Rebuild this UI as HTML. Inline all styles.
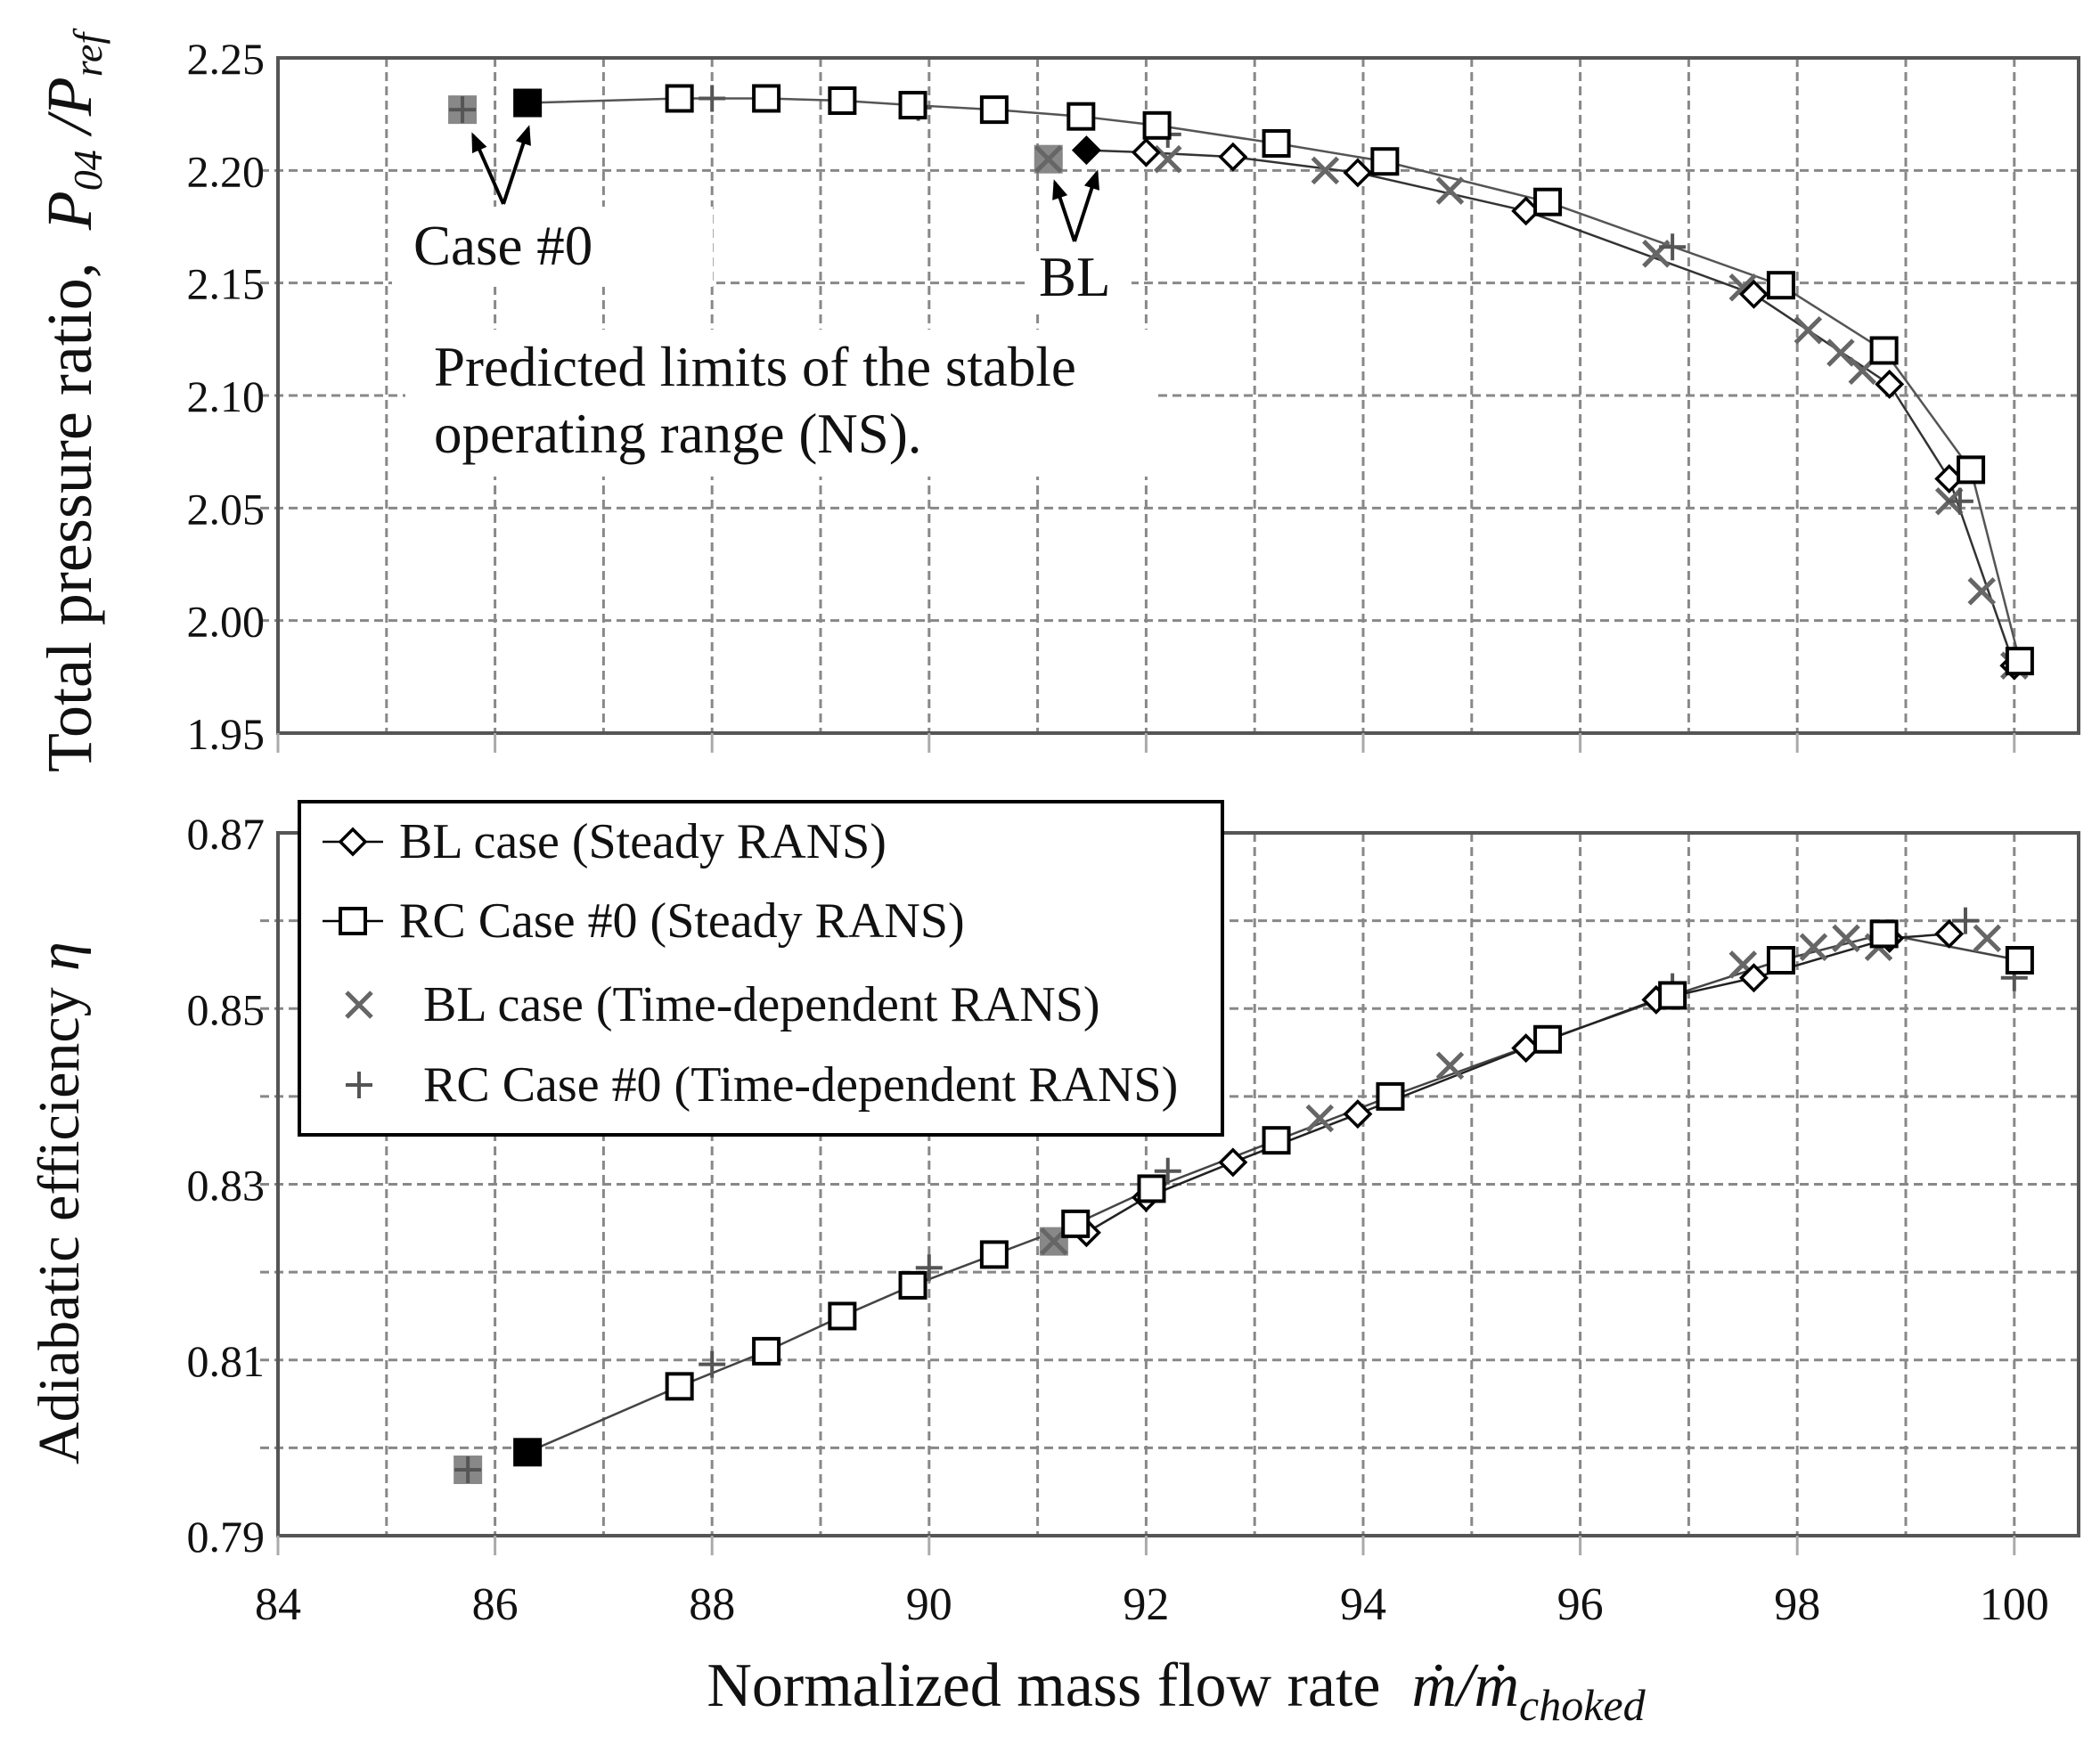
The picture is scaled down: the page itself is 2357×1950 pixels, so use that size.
<!DOCTYPE html>
<html><head><meta charset="utf-8">
<style>
html,body{margin:0;padding:0;background:#fff;}
svg{display:block;font-family:"Liberation Serif",serif;}
</style></head>
<body>
<svg id="s" width="2357" height="1950" viewBox="0 0 2357 1950" xmlns="http://www.w3.org/2000/svg">
<defs>
<marker id="ah" markerWidth="22" markerHeight="18" refX="18" refY="9" orient="auto" markerUnits="userSpaceOnUse">
<path d="M0,0 L22,9 L0,18 z" fill="#000"/>
</marker>
</defs>
</svg>
<script>
var s=document.getElementById('s'),NS='http://www.w3.org/2000/svg';
function el(t,a,txt){var e=document.createElementNS(NS,t);for(var k in a)e.setAttribute(k,a[k]);if(txt!==undefined)e.textContent=txt;s.appendChild(e);return e;}
var L=312,R=2333,T1=65,B1=823,T2=935,B2=1724;
function X(v){return 312+(v-84)*121.8;}
function YT(v){return T1+(2.25-v)/0.05*(B1-T1)/6;}
function YB(v){return T2+(0.87-v)/0.01*(B2-T2)/8;}
function grid(top,bot,ys){
  for(var i=85;i<=100;i++){var x=X(i);el('line',{x1:x,y1:top,x2:x,y2:bot,stroke:'#888','stroke-width':3,'stroke-dasharray':'10,6'});}
  ys.forEach(function(y){el('line',{x1:L-20,y1:y,x2:R,y2:y,stroke:'#888','stroke-width':3,'stroke-dasharray':'10,6'});});
  el('rect',{x:L,y:top,width:R-L,height:bot-top,fill:'none',stroke:'#555','stroke-width':4});
}
var yt=[];for(var i=1;i<6;i++)yt.push(T1+i*(B1-T1)/6);
grid(T1,B1,yt);
var yb=[];for(var i=1;i<8;i++)yb.push(T2+i*(B2-T2)/8);
grid(T2,B2,yb);
for(var i=84;i<=100;i+=2){el('line',{x1:X(i),y1:B2,x2:X(i),y2:B2+22,stroke:'#aaa','stroke-width':3});
 el('text',{x:X(i),y:1818,'font-size':52,'text-anchor':'middle',fill:'#111'},String(i));}
for(var i=84;i<=100;i+=2){el('line',{x1:X(i),y1:B1,x2:X(i),y2:B1+22,stroke:'#aaa','stroke-width':3});}
['2.25','2.20','2.15','2.10','2.05','2.00','1.95'].forEach(function(t,i){el('text',{x:297,y:T1+i*(B1-T1)/6+18,'font-size':50,'text-anchor':'end',fill:'#111'},t);});
['0.87','0.85','0.83','0.81','0.79'].forEach(function(t,i){el('text',{x:297,y:T2+i*(B2-T2)/4+18,'font-size':50,'text-anchor':'end',fill:'#111'},t);});
el('rect',{x:440,y:232,width:360,height:90,fill:'#fff'});
el('rect',{x:1150,y:282,width:120,height:70,fill:'#fff'});
el('rect',{x:455,y:370,width:840,height:165,fill:'#fff'});
el('text',{x:464,y:297,'font-size':63,fill:'#111'},'Case #0');
el('text',{x:1166,y:332,'font-size':63,fill:'#111'},'BL');
el('text',{x:487,y:433,'font-size':63,fill:'#111'},'Predicted limits of the stable');
el('text',{x:487,y:508,'font-size':63,fill:'#111'},'operating range (NS).');
[[565,229,531,152],[565,229,593,144],[1206,271,1184,205],[1206,271,1231,194]].forEach(function(a){
 el('line',{x1:a[0],y1:a[1],x2:a[2],y2:a[3],stroke:'#000','stroke-width':4,'marker-end':'url(#ah)'});});
var g=el('text',{transform:'translate(102,867) rotate(-90)','font-size':72,'text-anchor':'start',fill:'#111'});
g.innerHTML='Total pressure ratio,&#160;&#160;<tspan font-style="italic">P</tspan><tspan font-style="italic" font-size="46" dy="12">04</tspan><tspan dy="-12" font-style="italic"> /P</tspan><tspan font-style="italic" font-size="46" dy="12">ref</tspan>';
el('text',{transform:'translate(88,1644) rotate(-90)','font-size':66,'text-anchor':'start',fill:'#111'},'Adiabatic efficiency');
el('text',{transform:'translate(88,1090) rotate(-90)','font-size':66,'text-anchor':'start','font-style':'italic',fill:'#111'},'η');
var g3=el('text',{x:1320,y:1915,'font-size':70,'text-anchor':'middle',fill:'#111'});
g3.innerHTML='Normalized mass flow rate&#160;&#160;<tspan font-style="italic">ṁ/ṁ</tspan><tspan font-style="italic" font-size="50" dy="16">choked</tspan>';
function sq(x,y,fill){el('rect',{x:x-14,y:y-14,width:28,height:28,fill:fill||'#fff',stroke:'#000','stroke-width':4});}
function di(x,y,fill){el('path',{d:'M'+x+','+(y-14)+' L'+(x+14)+','+y+' L'+x+','+(y+14)+' L'+(x-14)+','+y+' z',fill:fill||'#fff',stroke:'#000','stroke-width':3.5});}
function cr(x,y){el('path',{d:'M'+(x-14)+','+(y-14)+' L'+(x+14)+','+(y+14)+' M'+(x+14)+','+(y-14)+' L'+(x-14)+','+(y+14),stroke:'#666','stroke-width':5});}
function pl(x,y){el('path',{d:'M'+(x-15)+','+y+' L'+(x+15)+','+y+' M'+x+','+(y-15)+' L'+x+','+(y+15),stroke:'#555','stroke-width':4});}
function line(pts,fx,fy,col,w){el('polyline',{points:pts.map(function(p){return fx(p[0])+','+fy(p[1]);}).join(' '),fill:'none',stroke:col,'stroke-width':w});}
var tS=[[86.3,2.230],[87.7,2.232],[88.5,2.232],[89.2,2.231],[89.85,2.229],[90.6,2.227],[91.4,2.224],[92.1,2.220],[93.2,2.212],[94.2,2.204],[95.7,2.186],[97.85,2.149],[98.8,2.120],[99.6,2.067],[100.05,1.982]];
var tD=[[91.45,2.209],[92.0,2.208],[92.8,2.206],[93.95,2.199],[95.5,2.182],[97.6,2.145],[98.85,2.105],[99.4,2.063],[100.0,1.980]];
var tX=[[91.1,2.205],[92.2,2.205],[93.65,2.200],[94.8,2.191],[96.7,2.163],[97.5,2.148],[98.1,2.129],[98.4,2.119],[98.6,2.111],[99.4,2.053],[99.7,2.013],[100.0,1.980]];
var tP=[[85.7,2.227],[88.0,2.232],[89.9,2.228],[92.2,2.216],[96.85,2.166],[99.5,2.053]];
line(tS,X,YT,'#555',2.5);line(tD,X,YT,'#333',2.5);
el('rect',{x:X(85.7)-16,y:YT(2.227)-16,width:32,height:32,fill:'#888'});
el('rect',{x:X(91.1)-16,y:YT(2.205)-16,width:32,height:32,fill:'#888'});
tX.forEach(function(p){cr(X(p[0]),YT(p[1]));});
tP.forEach(function(p){pl(X(p[0]),YT(p[1]));});
tD.forEach(function(p,i){di(X(p[0]),YT(p[1]),i==0?'#000':'#fff');});
tS.forEach(function(p,i){sq(X(p[0]),YT(p[1]),i==0?'#000':'#fff');});
var bS=[[86.3,0.7995],[87.7,0.807],[88.5,0.811],[89.2,0.815],[89.85,0.8185],[90.6,0.822],[91.35,0.8255],[92.05,0.8295],[93.2,0.835],[94.25,0.840],[95.7,0.8465],[96.85,0.8515],[97.85,0.8555],[98.8,0.8585],[100.05,0.8555]];
var bD=[[91.45,0.8245],[92.0,0.8285],[92.8,0.8325],[93.95,0.838],[95.5,0.8455],[96.7,0.851],[97.6,0.8535],[98.85,0.858],[99.4,0.8585]];
var bX=[[91.15,0.8235],[93.6,0.8375],[94.8,0.8435],[97.5,0.855],[98.15,0.857],[98.45,0.858],[98.75,0.857],[99.75,0.858]];
var bP=[[85.75,0.7975],[88.0,0.8095],[90.0,0.8205],[92.2,0.8315],[96.85,0.8525],[99.55,0.860],[100.0,0.8535]];
line(bS,X,YB,'#444',2.5);line(bD,X,YB,'#222',2.5);
el('rect',{x:X(85.75)-16,y:YB(0.7975)-16,width:32,height:32,fill:'#888'});
el('rect',{x:X(91.15)-16,y:YB(0.8235)-16,width:32,height:32,fill:'#888'});
bX.forEach(function(p){cr(X(p[0]),YB(p[1]));});
bP.forEach(function(p){pl(X(p[0]),YB(p[1]));});
bD.forEach(function(p){di(X(p[0]),YB(p[1]));});
bS.forEach(function(p,i){sq(X(p[0]),YB(p[1]),i==0?'#000':'#fff');});
el('rect',{x:336,y:900,width:1036,height:374,fill:'#fff',stroke:'#000','stroke-width':4});
var ly=[945,1034,1128,1218],lt=['BL case (Steady RANS)','RC Case #0 (Steady RANS)','BL case (Time-dependent RANS)','RC Case #0 (Time-dependent RANS)'];
ly.forEach(function(y,i){
 if(i<2)el('line',{x1:362,y1:y,x2:430,y2:y,stroke:'#000','stroke-width':2.5});
 if(i==0)di(396,y);if(i==1)sq(396,y);if(i==2)cr(403,y);if(i==3)pl(403,y);
 el('text',{x:i<2?448:475,y:y+18,'font-size':56,fill:'#111'},lt[i]);
});
</script>
</body></html>
